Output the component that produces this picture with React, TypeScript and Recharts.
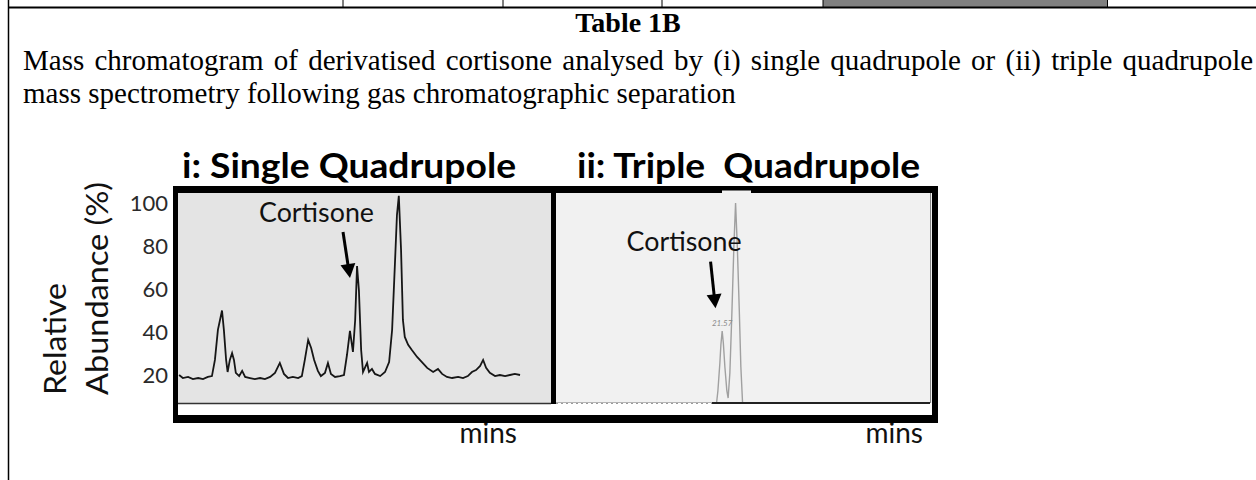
import React from 'react';
import { LineChart, Line, XAxis, YAxis, ReferenceLine, ReferenceDot } from 'recharts';

// ---------- text ----------
const tableTitle = 'Table 1B';
const captionLines = [
  'Mass chromatogram of derivatised cortisone analysed by (i) single quadrupole or (ii) triple quadrupole',
  'mass spectrometry following gas chromatographic separation',
];
const panelTitles = ['i: Single Quadrupole', 'ii: Triple  Quadrupole'];
const axisLabelLines = ['Relative', 'Abundance (%)'];
const timeUnit = 'mins';
const compoundLabel = 'Cortisone';
const cortisoneRT = '21.57';

// ---------- panel i: single quadrupole (retention time scaled 0-100 across panel) ----------
const singleTime = [
  0.3, 1.3, 2.7, 4.0, 5.4, 6.7, 8.0, 9.1, 9.9, 10.7,
  11.8, 12.3, 12.9, 13.3, 13.9, 14.5, 15.0, 15.5, 16.4, 17.2,
  18.0, 19.3, 20.6, 22.0, 23.3, 24.7, 26.0, 27.3, 28.4, 29.5,
  30.8, 32.2, 33.2, 34.0, 34.9, 35.7, 36.5, 37.5, 38.3, 39.4,
  40.2, 41.0, 42.1, 43.4, 44.5, 45.3, 46.1, 46.9, 47.5, 48.0,
  48.5, 49.1, 49.6, 50.1, 50.7, 51.2, 52.0, 52.8, 54.2, 55.5,
  56.6, 57.4, 58.2, 58.7, 59.2, 59.8, 60.3, 60.8, 61.7, 62.7,
  64.1, 65.4, 66.8, 68.4, 69.7, 70.8, 72.1, 73.5, 75.1, 76.4,
  77.7, 78.8, 79.9, 81.0, 81.8, 82.6, 83.6, 85.0, 86.3, 87.7,
  89.0, 90.3, 91.7,
];
const singleAbundance = [
  20, 18.6, 19.1, 18.1, 18.6, 18.1, 19.1, 19.5, 27, 41,
  50, 41, 27, 21.4, 27, 30.2, 27, 21, 19.5, 21.9,
  19.1, 18.6, 18.1, 18.6, 18.1, 19.1, 21, 25.6, 20.5, 18.6,
  19.1, 18.6, 19.5, 27, 36.3, 32.6, 27, 21.9, 19.5, 21,
  25.6, 20.5, 19.1, 19.5, 20, 29.3, 40.5, 30.7, 45.6, 70.7,
  59.5, 31.6, 21.4, 23.3, 25.6, 21.4, 22.8, 20.5, 19.5, 21.4,
  26, 40.9, 73.5, 94.4, 103.3, 78.1, 45.6, 37.7, 34, 31.6,
  28.4, 26, 23.3, 21.4, 22.8, 20.5, 19.1, 18.6, 19.1, 18.6,
  19.5, 21.4, 22.3, 24.2, 27, 23.3, 21, 19.5, 20, 19.5,
  20, 20.5, 20,
];
const abundanceTicks = [20, 40, 60, 80, 100];
const singleDomainX = [0, 100];
const singleDomainY = [0, 104.65];

// ---------- panel ii: triple quadrupole (minutes) ----------
const tripleTime = [
  18.46, 21.38, 21.465, 21.49, 21.527, 21.546, 21.57, 21.592, 21.621, 21.658,
  21.682, 21.714, 21.752, 21.789, 21.821, 21.854, 21.892, 21.92, 21.952, 22.0,
  25.46,
];
const tripleAbundance = [
  0, 0, 0, 6, 20, 29, 36, 30, 18, 6,
  2.5, 15, 45, 78, 100, 78, 45, 18, 0, 0,
  0,
];
const tripleDomainX = [18.46, 25.46];
const tripleDomainY = [0, 105];
const tripleDarkBaseline = [21.38, 25.46];

// arrows (tail -> head) in data units
const singleArrow = [{ x: 44.24, y: 86.5 }, { x: 46.11, y: 65.1 }];
const tripleArrow = [{ x: 21.353, y: 70.65 }, { x: 21.446, y: 47.35 }];

const singleData = singleTime.map((t, i) => ({ t, v: singleAbundance[i] }));
const tripleData = tripleTime.map((t, i) => ({ t, v: tripleAbundance[i] }));

const W = 1256;
const H = 480;
const SANS = 'Lato, "Open Sans", sans-serif';
const SERIF = '"Liberation Serif", "Times New Roman", serif';

const arrowShape = (props: any) => {
  const { x1, y1, x2, y2 } = props;
  const dx = x2 - x1;
  const dy = y2 - y1;
  const len = Math.hypot(dx, dy) || 1;
  const ux = dx / len;
  const uy = dy / len;
  const headLen = 14;
  const headHalf = 7.5;
  const bx = x2 - ux * headLen;
  const by = y2 - uy * headLen;
  const px = -uy;
  const py = ux;
  return (
    <g>
      <line x1={x1} y1={y1} x2={bx + ux * 2} y2={by + uy * 2} stroke="#000" strokeWidth={3} />
      <polygon
        points={`${x2},${y2} ${bx + px * headHalf},${by + py * headHalf} ${bx - px * headHalf},${by - py * headHalf}`}
        fill="#000"
      />
      <text
        x={x1 - 84}
        y={y1 - 10.5}
        fontFamily={SANS}
        fontSize={26}
        fill="#111"
        textLength={115}
        lengthAdjust="spacingAndGlyphs"
      >
        {compoundLabel}
      </text>
    </g>
  );
};

export default function App() {
  return (
    <div style={{ position: 'absolute', left: 0, top: 0, width: W, height: H, background: '#fff', overflow: 'hidden' }}>
      {/* underlay: page table + panel backgrounds + frame */}
      <svg width={W} height={H} style={{ position: 'absolute', left: 0, top: 0 }}>
        {/* table top row */}
        <rect x={823} y={0} width={284} height={7} fill="#808080" />
        <line x1={343} y1={0} x2={343} y2={7} stroke="#000" strokeWidth={1} />
        <line x1={503} y1={0} x2={503} y2={7} stroke="#000" strokeWidth={1} />
        <line x1={662} y1={0} x2={662} y2={7} stroke="#000" strokeWidth={1} />
        <line x1={823} y1={0} x2={823} y2={7} stroke="#000" strokeWidth={1} />
        <line x1={1107.5} y1={0} x2={1107.5} y2={7} stroke="#000" strokeWidth={1} />
        <line x1={8} y1={7.5} x2={W} y2={7.5} stroke="#000" strokeWidth={2} />
        <line x1={8.5} y1={0} x2={8.5} y2={H} stroke="#000" strokeWidth={1.5} />

        {/* caption */}
        <text x={628} y={32} textAnchor="middle" fontFamily={SERIF} fontWeight={700} fontSize={28} fill="#000">
          {tableTitle}
        </text>
        <text x={23} y={70} fontFamily={SERIF} fontSize={29} fill="#000" style={{ wordSpacing: '3px' }}>
          {captionLines[0]}
        </text>
        <text x={23} y={103} fontFamily={SERIF} fontSize={29} fill="#000">
          {captionLines[1]}
        </text>

        {/* panel titles */}
        <text x={182} y={178} fontFamily={SANS} fontWeight={700} fontSize={35} fill="#000" textLength={334} lengthAdjust="spacingAndGlyphs">
          {panelTitles[0]}
        </text>
        <text x={577} y={178} fontFamily={SANS} fontWeight={700} fontSize={35} fill="#000" textLength={343} lengthAdjust="spacingAndGlyphs" style={{ whiteSpace: 'pre' }}>
          {panelTitles[1]}
        </text>

        {/* y axis title */}
        <text transform="rotate(-90 66 395)" x={66} y={395} fontFamily={SANS} fontSize={31} fill="#111" textLength={112} lengthAdjust="spacingAndGlyphs">
          {axisLabelLines[0]}
        </text>
        <text transform="rotate(-90 108 395)" x={108} y={395} fontFamily={SANS} fontSize={31} fill="#111" textLength={213} lengthAdjust="spacingAndGlyphs">
          {axisLabelLines[1]}
        </text>

        {/* x unit labels */}
        <text x={517} y={443} textAnchor="end" fontFamily={SANS} fontSize={28} fill="#111">{timeUnit}</text>
        <text x={923} y={443} textAnchor="end" fontFamily={SANS} fontSize={28} fill="#111">{timeUnit}</text>

        {/* panel backgrounds */}
        <rect x={178} y={193} width={373} height={210} fill="#e4e4e4" />
        <rect x={556} y={193} width={376} height={210} fill="#f1f1f1" />
      </svg>

      {/* panel i chart */}
      <div style={{ position: 'absolute', left: 0, top: 0 }}>
        <LineChart width={W} height={H} data={singleData} margin={{ top: 193, right: 705, bottom: 62, left: 118 }}>
          <XAxis dataKey="t" type="number" domain={singleDomainX} hide allowDataOverflow />
          <YAxis
            type="number"
            domain={singleDomainY}
            ticks={abundanceTicks}
            interval={0}
            allowDataOverflow
            width={60}
            axisLine={false}
            tickLine={false}
            tickSize={0}
            tickMargin={10}
            tick={{ fontSize: 22, fill: '#2a2a2a', fontFamily: SANS }}
          />
          <Line dataKey="v" type="linear" stroke="#161616" strokeWidth={1.8} dot={false} isAnimationActive={false} />
          <ReferenceLine segment={singleArrow} ifOverflow="visible" shape={arrowShape} />
        </LineChart>
      </div>

      {/* panel ii chart */}
      <div style={{ position: 'absolute', left: 0, top: 0 }}>
        <LineChart width={W} height={H} data={tripleData} margin={{ top: 193, right: 326, bottom: 77, left: 556 }}>
          <XAxis dataKey="t" type="number" domain={tripleDomainX} hide allowDataOverflow />
          <YAxis type="number" domain={tripleDomainY} hide allowDataOverflow width={0} />
          <Line dataKey="v" type="linear" stroke="#a0a0a0" strokeWidth={1.4} dot={false} isAnimationActive={false} />
          <ReferenceLine
            segment={[{ x: tripleDarkBaseline[0], y: 0 }, { x: tripleDarkBaseline[1], y: 0 }]}
            ifOverflow="visible"
            stroke="#222"
            strokeWidth={2}
          />
          <ReferenceLine segment={tripleArrow} ifOverflow="visible" shape={arrowShape} />
          <ReferenceDot
            x={21.57}
            y={36}
            r={0}
            fill="none"
            stroke="none"
            ifOverflow="visible"
            label={{ value: cortisoneRT, position: 'top', offset: 5, fontSize: 8, fill: '#8a8a8a', fontStyle: 'italic', fontFamily: SANS }}
          />
        </LineChart>
      </div>

      {/* overlay: frame */}
      <svg width={W} height={H} style={{ position: 'absolute', left: 0, top: 0, pointerEvents: 'none' }}>
        <rect x={178} y={404} width={754} height={11} fill="#fff" />
        <line x1={178} y1={403.5} x2={551} y2={403.5} stroke="#333" strokeWidth={1.3} />
        <line x1={556} y1={403.5} x2={712} y2={403.5} stroke="#999" strokeWidth={1} strokeDasharray="2 3" />
        <line x1={930.5} y1={193} x2={930.5} y2={403} stroke="#888" strokeWidth={1} />
        <rect x={173} y={186} width={765} height={7} fill="#000" />
        <rect x={173} y={186} width={5} height={237} fill="#000" />
        <rect x={932} y={186} width={6} height={237} fill="#000" />
        <rect x={173} y={415} width={765} height={8} fill="#000" />
        <rect x={551} y={193} width={5} height={211} fill="#000" />
        <rect x={722} y={190.5} width={29} height={2.5} fill="#f2f2f2" />
      </svg>
    </div>
  );
}
